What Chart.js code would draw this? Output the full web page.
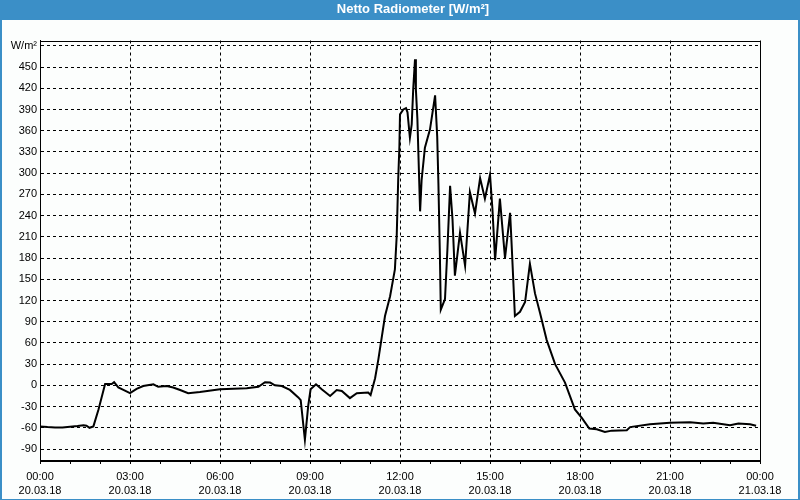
<!DOCTYPE html>
<html>
<head>
<meta charset="utf-8">
<script src="https://cdn.jsdelivr.net/npm/chart.js@4/dist/chart.umd.min.js"></script>
<style>
  html, body { margin: 0; padding: 0; background: #fcfefd; }
  #wrap { width: 800px; height: 500px; position: relative; }
</style>
</head>
<body>
<div id="wrap"><canvas id="c" width="800" height="500"></canvas></div>
<script>
// ---- data ----
const chartTitle = 'Netto Radiometer [W/m²]';
const unitLabel = 'W/m²';
const hours = [0, 0.25, 0.5, 0.75, 1.0, 1.25, 1.45, 1.55, 1.65, 1.78, 1.95, 2.17, 2.39, 2.47, 2.61, 2.78, 3.0, 3.22, 3.44, 3.78, 3.94, 4.22, 4.44, 4.67, 4.94, 5.33, 6.0, 6.67, 6.89, 7.28, 7.5, 7.67, 7.83, 8.06, 8.33, 8.61, 8.69, 8.83, 8.94, 9.02, 9.2, 9.39, 9.67, 9.89, 10.06, 10.33, 10.56, 10.94, 11.02, 11.17, 11.28, 11.5, 11.67, 11.83, 11.89, 11.94, 11.98, 12.0, 12.11, 12.2, 12.25, 12.33, 12.39, 12.44, 12.5, 12.53, 12.58, 12.67, 12.72, 12.83, 13.0, 13.17, 13.24, 13.28, 13.33, 13.36, 13.5, 13.58, 13.67, 13.75, 13.83, 14.0, 14.17, 14.33, 14.5, 14.67, 14.83, 15.0, 15.08, 15.17, 15.33, 15.5, 15.67, 15.72, 15.77, 15.83, 16.0, 16.17, 16.33, 16.5, 16.67, 16.89, 17.17, 17.5, 17.83, 18.06, 18.31, 18.56, 18.83, 19.06, 19.56, 19.67, 20.33, 21.0, 21.67, 22.11, 22.44, 23.0, 23.28, 23.67, 23.87];
const values = [-58, -59, -59.5, -59.5, -58.5, -57.5, -56.5, -57, -60, -58, -34, 2, 2, 4.5, -3, -6.5, -11, -5, -1, 1.5, -2, -1, -3, -6.5, -11, -9.5, -5.5, -4.5, -4, -2, 4.5, 4, 0, -1, -6.5, -17, -21, -77, -29, -5.5, 1.5, -5.5, -15, -6.5, -8, -18, -11, -10, -13.5, 10, 37, 98, 126, 164, 211, 291, 338, 383, 390, 392, 386, 350, 369, 418, 461, 418, 376, 246, 290, 336, 362, 410, 352, 286, 183, 107, 122, 192, 282, 235, 155, 216, 169, 273, 243, 293, 264, 298, 250, 177, 264, 180, 244, 200, 154, 98, 104, 118, 172, 130, 102, 64, 30, 4, -34, -46, -61, -62, -66, -64, -63.5, -59, -55, -53, -52, -54, -53, -56.5, -54, -55, -57];
const yTickValues = [-90, -60, -30, 0, 30, 60, 90, 120, 150, 180, 210, 240, 270, 300, 330, 360, 390, 420, 450, 480];
const xTickHours = [0, 3, 6, 9, 12, 15, 18, 21, 24];
const xTickTimes = ['00:00', '03:00', '06:00', '09:00', '12:00', '15:00', '18:00', '21:00', '00:00'];
const xTickDates = ['20.03.18', '20.03.18', '20.03.18', '20.03.18', '20.03.18', '20.03.18', '20.03.18', '20.03.18', '21.03.18'];

const BLUE = '#3b8fc7';
const FONT = "'Liberation Sans', Arial, sans-serif";

const frame = {
  id: 'frame',
  beforeDraw(chart) {
    const c = chart.ctx;
    c.save();
    c.fillStyle = '#fcfefd';
    c.fillRect(0, 0, chart.width, chart.height);
    c.fillStyle = BLUE;
    c.fillRect(0, 0, chart.width, 20);
    c.fillRect(0, 0, 2, chart.height);
    c.fillRect(chart.width - 2, 0, 2, chart.height);
    c.fillRect(0, chart.height - 1, chart.width, 1);
    c.restore();
  },
  afterLayout(chart) {
    if (chart.titleBlock) { chart.titleBlock.left = 26; chart.titleBlock.right = 800; }
  },
  afterDatasetsDraw(chart) {
    const a = chart.chartArea, c = chart.ctx;
    c.save();
    c.strokeStyle = '#000';
    c.lineWidth = 1;
    c.strokeRect(Math.round(a.left) + 0.5, Math.round(a.top) + 0.5, Math.round(a.right - a.left), Math.round(a.bottom - a.top));
    c.restore();
  }
};

new Chart(document.getElementById('c'), {
  type: 'line',
  data: {
    datasets: [{
      data: hours.map((h, i) => ({ x: h, y: values[i] })),
      borderColor: '#000',
      borderWidth: 2,
      pointRadius: 0,
      tension: 0,
      fill: false
    }]
  },
  plugins: [frame],
  options: {
    responsive: false,
    animation: false,
    layout: { padding: { left: 0, right: 40, top: 0, bottom: 0 } },
    plugins: {
      legend: { display: false },
      tooltip: { enabled: false },
      title: {
        display: true,
        text: chartTitle,
        color: '#ffffff',
        font: { family: FONT, size: 13, weight: 'bold', lineHeight: 1.2 },
        padding: { top: 2, bottom: 22.9 }
      }
    },
    scales: {
      x: {
        type: 'linear',
        min: 0,
        max: 24,
        afterBuildTicks(scale) {
          const t = [];
          for (let h = 0; h <= 24; h++) t.push({ value: h });
          scale.ticks = t;
        },
        afterFit(scale) { scale.height = 40; },
        grid: {
          color: (ctx) => (ctx.tick && xTickHours.includes(ctx.tick.value) ? '#000' : 'rgba(0,0,0,0)'),
          tickColor: '#000',
          tickLength: 4,
          lineWidth: 1
        },
        border: { display: true, color: '#000', width: 1, dash: [3, 3] },
        ticks: {
          autoSkip: false,
          maxRotation: 0,
          color: '#000',
          padding: 5,
          font: { family: FONT, size: 11, lineHeight: 1.36 },
          callback(value) {
            const i = xTickHours.indexOf(value);
            return i < 0 ? '' : [xTickTimes[i], xTickDates[i]];
          }
        }
      },
      y: {
        type: 'linear',
        min: -105.5,
        max: 487.5,
        afterBuildTicks(scale) { scale.ticks = yTickValues.map(v => ({ value: v })); },
        afterFit(scale) { scale.width = 40; },
        grid: { color: '#000', lineWidth: 1, drawTicks: false },
        border: { display: true, color: '#000', width: 1, dash: [3, 3] },
        ticks: {
          color: '#000',
          padding: 3,
          font: { family: FONT, size: 11 },
          callback(value) { return value === 480 ? unitLabel : String(value); }
        }
      }
    }
  }
});
</script>
</body>
</html>
